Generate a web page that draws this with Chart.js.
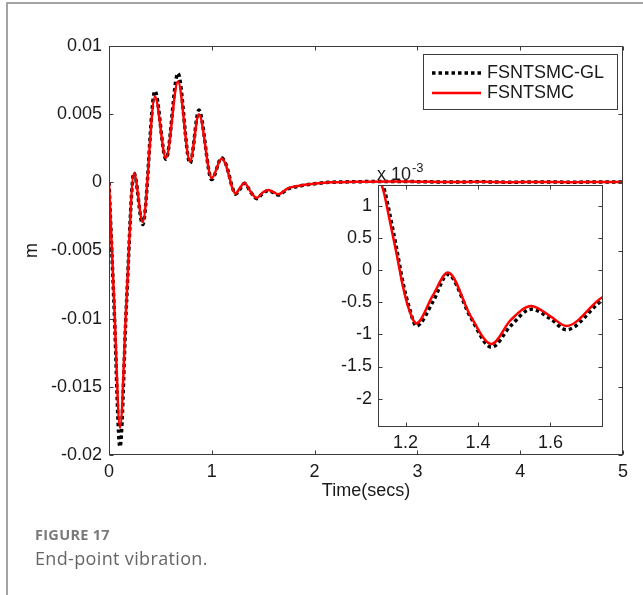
<!DOCTYPE html>
<html><head><meta charset="utf-8">
<script src="https://cdn.jsdelivr.net/npm/chart.js@4.4.1/dist/chart.umd.min.js"></script>
<style>
html,body{margin:0;padding:0;background:#fff;}
#wrap{position:relative;width:643px;height:595px;overflow:hidden;background:#fff;}
#card{position:absolute;left:6px;top:2px;width:800px;height:800px;border-top:2px solid #a3a3a3;border-left:2px solid #a3a3a3;}
#main{position:absolute;left:0;top:0;}
#inset{position:absolute;left:300px;top:150px;}
#fig{position:absolute;left:35px;top:525px;font:700 14.5px "Open Sans",sans-serif;color:#7a7a7a;letter-spacing:0.3px;line-height:20px;}
#cap{position:absolute;left:35px;top:546px;font:400 18px "Open Sans",sans-serif;color:#666;letter-spacing:0.35px;line-height:24px;}
</style></head>
<body>
<div id="wrap">
  <div id="card"></div>
  <canvas id="main" width="643" height="595"></canvas>
  <canvas id="inset" width="320" height="310"></canvas>
  <div id="fig">FIGURE 17</div>
  <div id="cap">End-point vibration.</div>
</div>
<script>
// ---- data ----
const timeSecs = [0, 0.05, 0.107, 0.17, 0.243, 0.328, 0.447, 0.554, 0.671, 0.788, 0.875, 0.999, 1.096, 1.138, 1.156, 1.175, 1.193, 1.21, 1.23, 1.275, 1.317, 1.38, 1.437, 1.49, 1.547, 1.6, 1.644, 1.744, 1.85, 1.97, 2.15, 2.4, 2.7, 3.0, 3.3, 3.6, 3.9, 4.2, 4.5, 4.8, 5.0];
const fsntsmcGL = [0, -0.0092, -0.0194, -0.0089, 0.0007, -0.0031, 0.0067, 0.0017, 0.0080, 0.0014, 0.0053, 0.0002, 0.0018, 0.00132, 0.00088, 0.00034, -0.0002, -0.00058, -0.00087, -0.0005, -0.00007, -0.00074, -0.00120, -0.00087, -0.00061, -0.00076, -0.00093, -0.00047, -0.00028, -0.00013, 0, 0.00004, 0.00007, 0.00005, 0.00002, 0.00004, 0.00001, 0.00003, 0.00001, 0.00003, 0.00002];
const fsntsmc = [0, -0.0088, -0.0180, -0.0087, 0.00066, -0.0029, 0.0063, 0.00178, 0.0074, 0.00154, 0.0050, 0.00032, 0.00174, 0.00125, 0.00078, 0.00026, -0.00026, -0.00062, -0.00083, -0.00040, -0.00004, -0.00072, -0.00115, -0.00078, -0.00056, -0.00072, -0.00087, -0.00042, -0.00025, -0.00012, 0, 0.00004, 0.00007, 0.00005, 0.00002, 0.00004, 0.00001, 0.00003, 0.00001, 0.00003, 0.00002];
const seriesNames = ['FSNTSMC-GL', 'FSNTSMC'];
const mainXTicks = [0, 1, 2, 3, 4, 5];
const mainYTicks = [-0.02, -0.015, -0.01, -0.005, 0, 0.005, 0.01];
const insetXTicks = [1.2, 1.4, 1.6];
const insetYTicks = [-2, -1.5, -1, -0.5, 0, 0.5, 1]; // x 10^-3

Chart.defaults.font.family = '"Liberation Sans", Arial, sans-serif';
Chart.defaults.font.size = 18;
Chart.defaults.color = '#1a1a1a';

function pts(vals){ return timeSecs.map((t,i)=>({x:t, y:vals[i]})); }
function makeDatasets(){
  return [
    {label: seriesNames[0], data: pts(fsntsmcGL), borderColor:'#000', borderWidth:3.5, borderDash:[3.5,3], pointRadius:0, cubicInterpolationMode:'monotone', order:1, clip:0},
    {label: seriesNames[1], data: pts(fsntsmc), borderColor:'#ff0000', borderWidth:2.5, pointRadius:0, cubicInterpolationMode:'monotone', order:0, clip:0}
  ];
}

function seg(ctx,x1,y1,x2,y2){ ctx.beginPath(); ctx.moveTo(x1,y1); ctx.lineTo(x2,y2); ctx.stroke(); }

const frameTicks = {
  id:'frameTicks',
  beforeDatasetsDraw(chart, args, opts){
    if (!opts.whiteArea) return;
    const {ctx, chartArea:a} = chart;
    ctx.save(); ctx.fillStyle='#fff'; ctx.fillRect(a.left,a.top,a.right-a.left,a.bottom-a.top); ctx.restore();
  },
  afterDatasetsDraw(chart, args, opts){
    const {ctx, chartArea:a, scales:{x,y}} = chart;
    ctx.save();
    ctx.strokeStyle = '#3c3c3c'; ctx.lineWidth = 1;
    const l = Math.round(a.left)+0.5, r = Math.round(a.right)-0.5, t = Math.round(a.top)+0.5, b = Math.round(a.bottom)-0.5;
    ctx.strokeRect(l, t, r-l, b-t);
    const L = 4;
    opts.xt.forEach(v=>{ const px = Math.round(x.getPixelForValue(v))+0.5; seg(ctx,px,b,px,b-L); seg(ctx,px,t,px,t+L); });
    opts.yt.forEach(v=>{ const py = Math.round(y.getPixelForValue(v*opts.yf))+0.5; seg(ctx,l,py,l+L,py); seg(ctx,r,py,r-L,py); });
    if (opts.legend){
      const lg = opts.legend;
      ctx.fillStyle='#fff'; ctx.fillRect(lg.x, lg.y, lg.w, lg.h);
      ctx.strokeStyle='#3c3c3c'; ctx.lineWidth=1; ctx.strokeRect(lg.x+0.5, lg.y+0.5, lg.w, lg.h);
      ctx.font = '18px "Liberation Sans", Arial, sans-serif'; ctx.textBaseline='middle'; ctx.fillStyle='#1a1a1a';
      chart.data.datasets.forEach((ds,i)=>{
        const yy = lg.y + 19 + i*20;
        ctx.strokeStyle = ds.borderColor; ctx.lineWidth = ds.borderWidth; ctx.setLineDash(ds.borderDash||[]);
        seg(ctx, lg.x+9, yy, lg.x+58, yy);
        ctx.setLineDash([]);
        ctx.fillText(ds.label, lg.x+64, yy);
      });
    }
    if (opts.mult){
      ctx.fillStyle='#1a1a1a'; ctx.textBaseline='alphabetic';
      ctx.font = '18px "Liberation Sans", Arial, sans-serif';
      ctx.fillText('x 10', a.left-1, a.top-5);
      const w = ctx.measureText('x 10').width;
      ctx.font = '13px "Liberation Sans", Arial, sans-serif';
      ctx.fillText('-3', a.left-1+w+1, a.top-13);
    }
    ctx.restore();
  }
};

new Chart(document.getElementById('main'), {
  type:'line',
  data:{datasets: makeDatasets()},
  options:{
    responsive:false, animation:false, devicePixelRatio:1,
    layout:{padding:{left:0, top:46, right:20, bottom:93}},
    plugins:{legend:{display:false}, tooltip:{enabled:false},
      frameTicks:{xt: mainXTicks, yt: mainYTicks, yf:1, legend:{x:423, y:54, w:194, h:55}}},
    scales:{
      x:{type:'linear', min:0, max:5,
        afterFit(s){ s.height = 47; },
        afterBuildTicks(s){ s.ticks = mainXTicks.map(v=>({value:v})); },
        grid:{display:false, drawTicks:false}, border:{display:false},
        ticks:{padding:6, maxRotation:0, callback:v=>String(v)},
        title:{display:true, text:'Time(secs)', padding:0, font:{size:18}}},
      y:{type:'linear', min:-0.02, max:0.01,
        afterFit(s){ s.width = 109; },
        afterBuildTicks(s){ s.ticks = mainYTicks.map(v=>({value:v})); },
        grid:{display:false, drawTicks:false}, border:{display:false},
        ticks:{padding:7, callback:v=>String(Number(v.toFixed(3)))},
        title:{display:true, text:'m', padding:{top:21,bottom:0}, font:{size:18}}}
    }
  },
  plugins:[frameTicks]
});

new Chart(document.getElementById('inset'), {
  type:'line',
  data:{datasets: makeDatasets()},
  options:{
    responsive:false, animation:false, devicePixelRatio:1,
    layout:{padding:{left:0, top:35, right:17, bottom:0}},
    plugins:{legend:{display:false}, tooltip:{enabled:false},
      frameTicks:{xt: insetXTicks, yt: insetYTicks, yf:0.001, whiteArea:true, mult:true}},
    scales:{
      x:{type:'linear', min:1.124, max:1.745,
        afterFit(s){ s.height = 33; },
        afterBuildTicks(s){ s.ticks = insetXTicks.map(v=>({value:v})); },
        grid:{display:false, drawTicks:false}, border:{display:false},
        ticks:{padding:5, maxRotation:0, callback:v=>v.toFixed(1)}},
      y:{type:'linear', min:-0.00244, max:0.00132,
        afterFit(s){ s.width = 78; },
        afterBuildTicks(s){ s.ticks = insetYTicks.map(v=>({value:v*0.001})); },
        grid:{display:false, drawTicks:false}, border:{display:false},
        ticks:{padding:6, callback:v=>String(Number((v*1000).toFixed(1)))}}
    }
  },
  plugins:[frameTicks]
});
</script>
</body></html>
